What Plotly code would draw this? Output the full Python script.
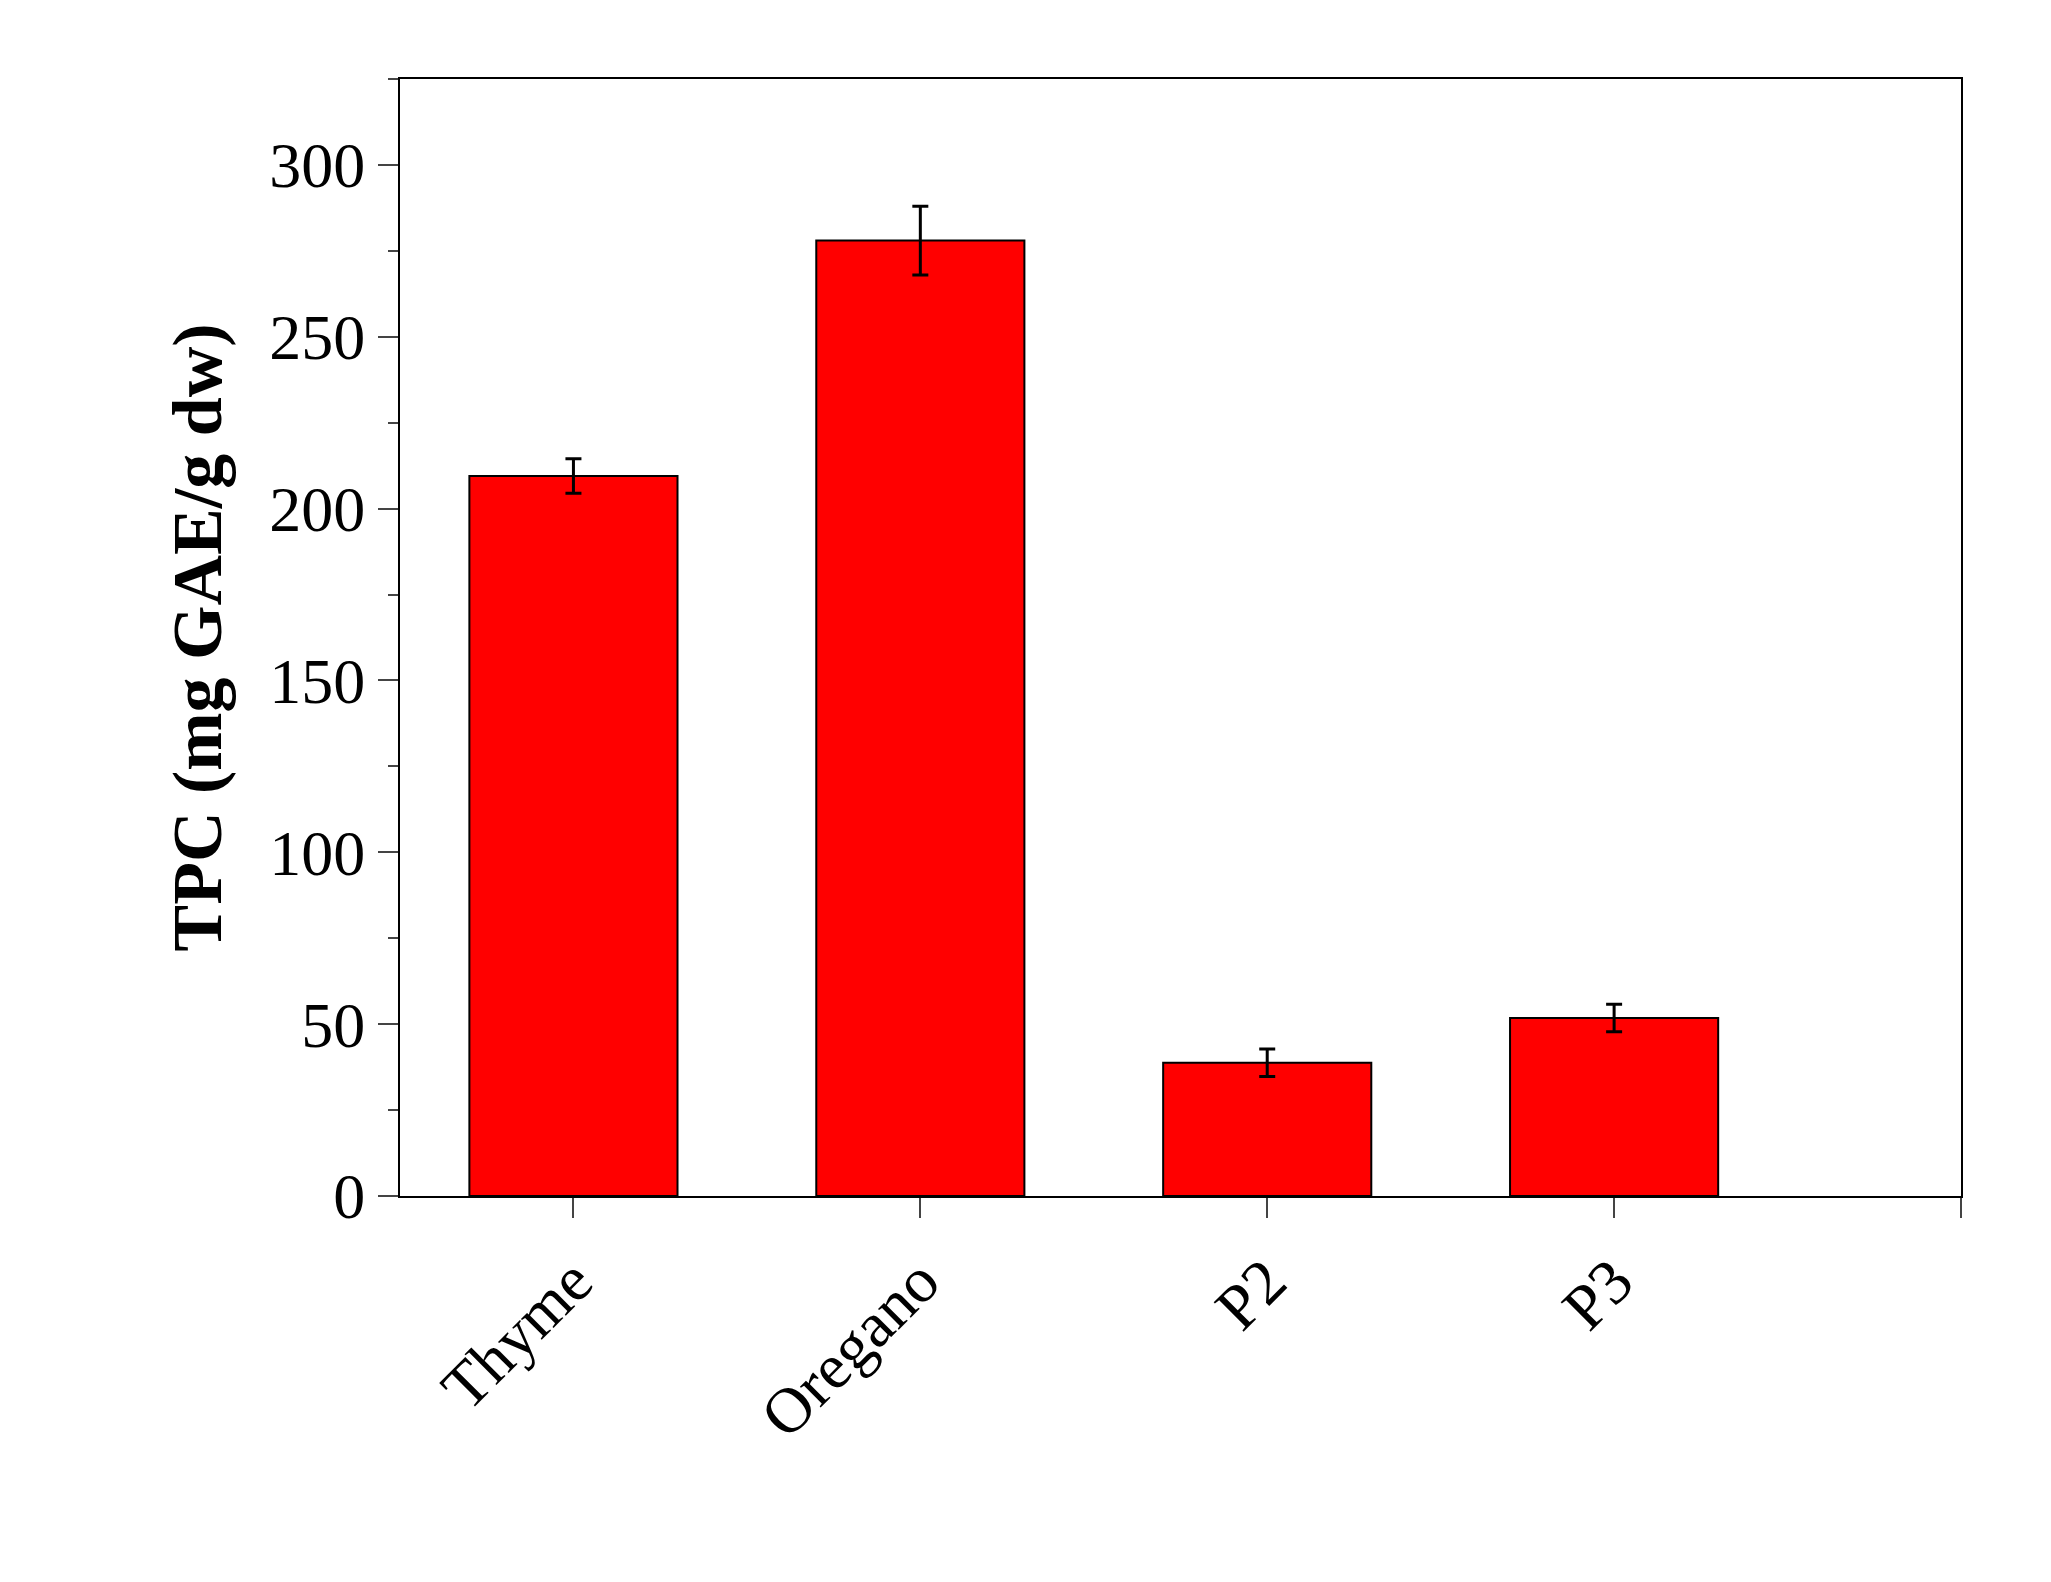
import plotly.graph_objects as go

categories = ["Thyme", "Oregano", "P2", "P3"]
tpc = [209.5, 278, 38.8, 51.8]
tpc_err = [5, 10, 4, 4]

xpos = list(range(len(categories)))

fig = go.Figure(go.Bar(
    x=xpos, y=tpc, width=0.6,
    marker=dict(color="#ff0000", line=dict(color="black", width=2)),
    error_y=dict(type="data", array=tpc_err, color="black", thickness=3, width=8),
))

fig.update_layout(
    width=2051, height=1582,
    paper_bgcolor="white", plot_bgcolor="white",
    margin=dict(l=392, r=98, t=71, b=394),
    font=dict(family="Liberation Serif", size=64, color="black"),
    showlegend=False,
)
fig.update_xaxes(
    range=[-0.5, 4.0], tickmode="array", tickvals=xpos + [4], ticktext=categories + [""],
    tickangle=-45, ticks="outside", ticklen=20, tickwidth=2,
    showline=True, linewidth=2, linecolor="black", mirror=True, showgrid=False,
)
fig.update_yaxes(
    range=[0, 325], dtick=50, ticks="outside", ticklen=20, tickwidth=2,
    minor=dict(dtick=25, ticks="outside", ticklen=10, tickwidth=2),
    showline=True, linewidth=2, linecolor="black", mirror=True, showgrid=False,
    title=dict(text="<b>TPC (mg GAE/g dw)</b>", font=dict(size=70), standoff=25),
)

fig.write_html("out.html")
